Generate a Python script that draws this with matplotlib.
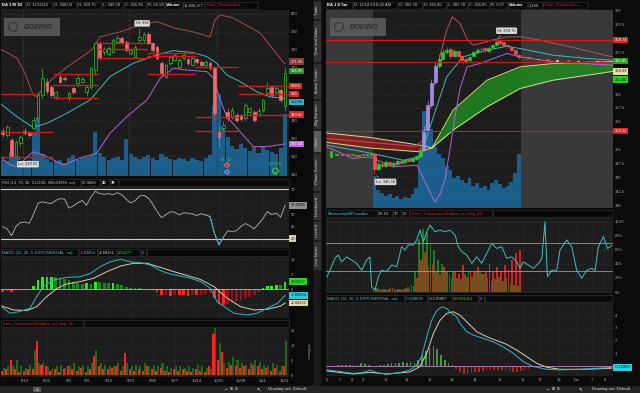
import numpy as np
import matplotlib
matplotlib.use('Agg')
import matplotlib.pyplot as plt
from matplotlib.patches import Rectangle, Circle
import matplotlib.transforms as mtransforms

plt.rcParams['font.family'] = ['Liberation Sans', 'DejaVu Sans']

W, H = 640, 393
BG = '#0b0b0b'
PANE = '#1d1d1d'
TXT = '#a8a8a8'
GRID = '#3e3e3e'
VOLC = '#1c5f8a'

#%% left chart: BA 3 M 1D
d_labels = ['8/19', '8/26', '9/3', '9/9', '9/16', '9/23', '9/30', '10/7', '10/14', '10/21', '10/28', '11/4', '11/11']
d_lab_idx = [5, 10, 15, 19, 24, 29, 34, 39, 44, 49, 54, 59, 64]

d_open = [334.0, 332.0, 329.2, 320.5, 327.3, 334.5, 333.4, 335.8, 341.4, 354.5,
          362.0, 359.0, 353.6, 364.5, 364.0, 353.6, 358.2, 361.0, 362.0, 356.4,
          359.2, 368.5, 383.5, 378.5, 377.5, 378.8, 384.5, 386.3, 384.5, 378.0,
          376.0, 385.5, 385.4, 389.0, 383.5, 381.6, 372.3, 364.8, 372.3, 374.2,
          370.4, 375.0, 374.5, 371.3, 374.5, 373.2, 371.3, 372.7, 369.5, 334.0,
          335.8, 345.1, 342.3, 343.3, 343.0, 341.4, 345.1, 345.1, 343.3, 346.1,
          355.4, 359.2, 356.4, 357.3, 348.04]
d_high = [336.0, 337.6, 330.5, 329.0, 332.0, 336.0, 334.5, 342.0, 356.0, 369.0,
          364.0, 360.0, 357.0, 366.0, 365.0, 356.0, 359.0, 366.0, 364.5, 360.0,
          370.0, 384.5, 385.0, 381.5, 382.0, 386.5, 388.0, 387.5, 385.5, 381.0,
          382.5, 391.0, 390.0, 390.0, 384.5, 382.5, 373.5, 372.0, 377.0, 378.0,
          375.0, 378.5, 375.5, 376.0, 375.5, 374.0, 374.0, 373.5, 370.0, 337.0,
          340.0, 347.0, 348.0, 344.5, 344.0, 350.0, 348.0, 346.0, 347.0, 352.5,
          362.0, 360.0, 359.5, 358.5, 369.75]
d_low = [331.0, 331.0, 319.8, 319.55, 326.0, 332.0, 331.0, 335.0, 340.0, 353.0,
         355.0, 353.0, 352.0, 361.0, 362.5, 351.0, 355.0, 359.0, 361.0, 354.0,
         358.0, 366.0, 374.0, 377.0, 376.5, 378.0, 383.5, 382.5, 378.5, 377.0,
         375.0, 384.5, 384.5, 382.5, 378.5, 374.0, 365.0, 364.0, 371.5, 373.5,
         369.5, 374.0, 371.5, 370.5, 372.0, 370.5, 370.0, 368.5, 340.0, 325.5,
         334.0, 340.0, 341.0, 339.5, 340.0, 340.5, 344.0, 339.5, 342.5, 345.0,
         354.5, 353.5, 355.5, 350.5, 345.58]
d_close = [332.5, 336.5, 320.5, 328.3, 331.0, 333.4, 332.0, 340.4, 354.5, 364.0,
           357.0, 354.5, 356.4, 362.0, 363.3, 355.4, 356.4, 364.0, 363.5, 359.2,
           369.5, 383.5, 375.1, 380.2, 380.7, 385.4, 386.3, 383.5, 379.8, 379.8,
           381.6, 387.0, 389.0, 383.5, 379.8, 375.1, 366.7, 371.3, 376.0, 377.0,
           374.2, 377.0, 372.5, 375.1, 373.2, 371.3, 373.2, 369.5, 344.2, 331.1,
           337.6, 341.4, 346.1, 340.4, 341.0, 348.9, 347.0, 340.4, 345.7, 351.7,
           358.2, 354.5, 358.2, 351.7, 366.96]
d_vol = [3.0, 2.8, 4.5, 3.5, 2.8, 2.5, 3.0, 8.0, 11.0, 4.0,
         3.2, 2.6, 2.8, 3.0, 2.4, 3.4, 3.8, 2.9, 3.3, 3.6,
         3.8, 8.1, 4.2, 3.5, 3.0, 3.3, 3.6, 3.0, 6.8, 4.0,
         3.5, 3.1, 3.6, 3.9, 3.3, 3.0, 4.1, 3.6, 3.2, 2.9,
         3.4, 3.1, 2.8, 3.3, 3.0, 2.7, 3.4, 3.8, 13.0, 15.2,
         9.0, 7.2, 5.5, 5.0, 6.0, 5.2, 4.6, 5.3, 4.2, 5.5,
         4.8, 4.4, 4.0, 5.2, 11.49]

# bollinger style bands (read as sparse points)
up_idx = [-0.6, 3.2, 5, 6.9, 7.8, 9.6, 14.6, 20.2, 22, 26.6, 31.1, 34.9, 39, 43.2, 47, 48.1, 49.3, 52.2, 58.3, 64]
up_val = [380.3, 375.3, 366.9, 354.5, 353.4, 360.1, 370.2, 379.8, 387.1, 389.9, 393.8, 395.7, 392.0, 389.9, 387.1, 396.6, 399.4, 397.8, 389.3, 371.9]
mid_idx = [-0.6, 3.2, 6.9, 10, 14.5, 19.8, 24.3, 29.6, 34.9, 38.7, 43.2, 46.3, 48.5, 50.8, 53.8, 57.6, 60.6, 64]
mid_val = [349.8, 342.3, 336.3, 338.6, 344.2, 351.7, 364.8, 372.3, 377.0, 379.4, 378.3, 376.0, 372.3, 365.7, 362.0, 356.3, 353.5, 352.56]
low_idx = [-0.6, 1.7, 3.2, 6.9, 9.2, 13.7, 18.3, 21.3, 24.3, 28.1, 32.7, 35.7, 38.7, 41.7, 46.3, 47.8, 49.3, 50.8, 53.8, 56.8, 59.9, 64]
low_val = [319.8, 315.2, 314.2, 322.6, 320.8, 315.2, 319.8, 321.7, 333.0, 342.3, 351.7, 363.9, 369.5, 368.5, 367.6, 363.9, 351.7, 342.3, 333.9, 325.5, 325.5, 327.04]

# drawn support / resistance segments
lvl_price = [354.9, 333.9, 319.8, 366.3, 360.1, 352.6, 383.9, 380.1, 375.1, 377.9, 376.4, 366.3, 370.4, 342.0, 334.5, 359.5, 355.0, 343.42]
lvl_from = [-0.6, -0.6, -0.6, 11.4, 11.4, 11.4, 21.6, 21.6, 21.6, 32.7, 32.7, 32.7, 43.6, 43.6, 43.6, 53.4, 53.4, 53.4]
lvl_to = [7.8, 11.4, 11.4, 21.6, 21.6, 21.6, 32.7, 32.7, 32.7, 44.1, 44.1, 43.6, 53.4, 53.4, 53.4, 64.9, 64.9, 64.9]
expiry_idx = [4.6, 28.6, 48.5]

rsi = [39.7, 38, 32.5, 40, 43, 43.5, 42.5, 50, 58.7, 60,
       59, 58.5, 61, 62.5, 62, 54.8, 56.5, 59, 61, 57.2,
       64, 68.5, 66.5, 66, 66.5, 65.6, 67.3, 65.6, 62, 59,
       60.8, 64.5, 65.2, 63, 58, 52, 47, 49.5, 51.8, 51.5,
       49.3, 51, 50.7, 50, 48.8, 50.3, 49.2, 48, 34.5, 25,
       31, 36.5, 35.8, 36.5, 40, 42.3, 40.5, 38, 42, 46.5,
       52, 49.5, 50.8, 47.5, 57.08]

macd_idx = [-0.2, 1.7, 3.9, 6.2, 7.7, 9.2, 11.5, 14.5, 17.6, 19.9, 22.1, 24.4, 26.7, 28.9, 31.2,
            33.5, 35.8, 38.0, 40.3, 42.6, 44.8, 47.1, 48.6, 50.2, 52.4, 55.5, 57.7, 60.0, 62.3, 64.0]
macd_val = [-6, -8, -7.4, -6.3, -2.4, 0.9, 3.1, 4.0, 4.2, 5.3, 7.6, 9.2, 10.0, 9.2, 8.9,
            8.1, 6.2, 5.1, 4.4, 3.7, 2.6, 0.3, -4.1, -5.8, -8.0, -8.6, -8.0, -6.3, -4.7, -2.03]
sig_idx = [-0.2, 2.4, 5.5, 7.7, 10, 12.3, 14.5, 17.6, 20.6, 23.6, 26.7, 29.7, 32.7, 35.8, 38.8,
           41.8, 44.8, 47.9, 50.9, 53.9, 57, 60, 63.0, 64]
sig_val = [-5.6, -6.9, -7.1, -5.8, -2.4, 0.3, 1.8, 2.6, 3.7, 5.9, 7.8, 8.7, 8.7, 7.3, 5.9,
           4.6, 3.3, 0.9, -3.0, -5.8, -6.9, -6.7, -5.6, -4.58]
macd_hist = [-0.8, -0.5, -1.0, -0.6, -0.4, -0.3, -0.1, 1.0, 3.0, 4.0,
             4.2, 4.2, 4.0, 3.7, 3.6, 3.0, 2.5, 2.0, 1.8, 2.0,
             1.8, 2.6, 2.3, 2.2, 2.0, 2.0, 1.7, 1.5, 0.9, 0.5,
             0.4, 0.3, 0.2, 0.1, -0.3, -1.0, -2.0, -1.8, -2.2, -2.0,
             -2.0, -2.0, -2.1, -2.0, -2.0, -1.8, -1.5, -1.2, -3.0, -5.0,
             -5.2, -4.8, -4.4, -4.0, -3.5, -3.0, -2.5, -1.8, -0.9, 0.3,
             1.0, 1.2, 1.6, 1.5, 2.55]

tt_red = [1.5, 2, 5, 2, 1, 1.5, 2, 2, 11.5, 3.5, 3, 1.5, 2, 1, 2, 3, 2, 1.5, 2.5, 1,
          2, 6.5, 3, 2, 2, 2.5, 3, 1.5, 7.5, 2, 1.5, 2, 1.5, 3, 2, 1.5, 2.5, 1.5, 1, 2,
          1.5, 2, 1.5, 1, 2, 1.5, 1, 3, 13.9, 5, 8, 2.5, 3.5, 3, 2.5, 3, 2, 3.5, 3, 2,
          2.5, 1.5, 2.5, 1.5, 3]
tt_green = [2.5, 3, 3, 5, 3, 2.5, 3.5, 8.5, 4, 4, 3, 2, 3, 3.5, 2.5, 3, 4, 3, 3.5, 3,
            4, 8.5, 4, 3.5, 3, 3, 4, 3, 4, 3, 3.5, 3, 4, 3, 3.5, 3, 4, 3, 2.5, 3,
            3, 2.5, 3, 2.5, 3.5, 3, 2.5, 2, 15.8, 11, 4, 4.5, 6, 5, 4, 3.5, 4, 5, 4.5, 3.5,
            3, 4, 3.5, 3, 11.5]

#%% right chart: BA 1 D 5m
r_tick_pos = [0, 7, 13, 19, 31, 42, 54, 66, 78, 91, 103, 112, 122, 131, 139.5, 146]
r_tick_lab = ['5', '7', '8', '9', '10', '11', '12', '13', '14', '15', '16', '17', '18', 'Tue', '7', '8']
r_levels = [369.74, 365.85, 353.32]

pre_t = [2, 5, 8, 11, 13, 15, 17, 19, 21, 23]
pre_open = [348.6, 349.0, 349.2, 349.3, 349.0, 349.1, 348.9, 349.2, 349.0, 349.1]
pre_close = [349.8, 349.2, 349.0, 349.1, 349.3, 348.9, 349.1, 349.0, 349.2, 349.3]

sess_t = np.arange(25, 102, 2)
s_open = [349.2, 346.6, 347.4, 347.1, 347.7, 347.2, 347.5, 347.9, 347.7, 348.3,
          348.0, 348.4, 348.9, 350.1, 353.6, 358.1, 362.1, 365.1, 366.4, 367.6,
          368.1, 366.9, 367.7, 366.8, 366.3, 366.1, 366.8, 367.5, 368.1, 368.3,
          367.8, 368.4, 368.9, 369.5, 369.3, 368.9, 368.5, 367.9, 367.1]
s_high = [349.5, 347.9, 347.8, 348.1, 347.9, 347.9, 348.2, 348.1, 348.4, 348.5,
          348.7, 349.0, 350.4, 354.2, 358.8, 362.8, 365.8, 367.2, 368.1, 368.5,
          368.3, 368.1, 367.9, 367.0, 366.6, 366.9, 367.8, 368.3, 368.5, 368.5,
          368.6, 369.1, 369.75, 369.7, 369.4, 369.0, 368.6, 368.0, 367.3]
s_low = [345.56, 346.3, 346.8, 346.9, 347.0, 347.0, 347.3, 347.4, 347.5, 347.8,
         347.8, 348.2, 348.7, 349.8, 353.2, 357.6, 361.8, 364.7, 366.1, 367.3,
         366.5, 366.7, 366.6, 366.0, 365.8, 365.9, 366.6, 367.3, 367.9, 367.6,
         367.6, 368.2, 368.7, 368.9, 368.6, 368.3, 367.7, 366.9, 366.3]
s_close = [346.5, 347.5, 347.0, 347.8, 347.3, 347.6, 347.9, 347.6, 348.2, 348.0,
           348.5, 348.8, 350.0, 353.5, 358.0, 362.0, 365.0, 366.3, 367.5, 368.0,
           366.8, 367.8, 366.9, 366.2, 366.0, 366.7, 367.6, 368.0, 368.2, 367.9,
           368.3, 368.8, 369.4, 369.2, 368.9, 368.6, 368.0, 367.2, 366.6]
s_vol = [32, 18, 15, 12, 14, 10, 12, 9, 11, 10, 14, 20, 55, 98, 95, 80, 62, 55, 50, 42,
         38, 30, 32, 28, 25, 30, 22, 25, 20, 22, 18, 25, 28, 24, 20, 22, 26, 35, 55]

post_t = [106, 111, 116, 121, 127, 132, 137, 142, 146, 149]
post_open = [366.6, 366.3, 366.3, 366.0, 366.1, 365.8, 365.9, 365.8, 365.85, 365.78]
post_close = [366.5, 366.4, 366.2, 366.1, 366.0, 365.9, 365.8, 365.9, 365.8, 365.85]

rb_up_t = [0, 7, 23, 46, 50, 54, 58, 63, 66, 70, 74, 77, 87, 95, 102, 112, 128, 150]
rb_up_v = [352.0, 351.8, 351.3, 350.6, 351.5, 357.0, 364.9, 371.5, 373.9, 372.7, 369.7, 368.8, 369.7, 370.3, 370.3, 369.7, 368.5, 366.7]
rb_mid_t = [0, 22.6, 40, 49, 56, 63, 71.6, 84, 94.7, 101.6, 119, 137, 150.5]
rb_mid_v = [350.8, 349.4, 348.1, 348.7, 355.9, 363.1, 366.7, 367.9, 368.6, 368.2, 367.0, 366.4, 366.1]
rb_low_t = [0, 13.7, 22.6, 34.7, 47.4, 50.5, 54.2, 56.8, 59.5, 62.1, 64.7, 67.4, 70, 73.7, 80.5, 87.4, 94.7, 101.6, 119, 150.5]
rb_low_v = [350.5, 348.4, 348.7, 346.9, 347.2, 345.0, 342.3, 340.6, 342.0, 344.6, 350.0, 356.0, 361.0, 364.9, 365.5, 366.4, 367.3, 366.7, 365.8, 365.2]

cloud_t = [0, 22.6, 49, 55.3, 66.3, 84.2, 101.6, 119, 137, 150.5]
cloud_fast = [351.3, 350.3, 349.6, 350.3, 357.1, 362.5, 364.9, 365.5, 365.7, 365.85]
cloud_slow = [353.0, 352.2, 350.8, 350.3, 353.5, 357.7, 361.0, 362.5, 363.4, 364.09]

mfi_t = [0, 1.6, 4.2, 5.9, 7.7, 10.4, 13, 15.6, 18.3, 20.9, 22.6, 23.5, 25.3, 27, 28.8, 31.4, 34.1,
         36.7, 39.3, 41.1, 42.8, 45.4, 47.2, 48.9, 50.7, 52.5, 54.2, 56.8, 59.5, 62.1, 64.7, 67.4,
         69.1, 70.9, 73.5, 76.2, 78.8, 81.4, 84.1, 86.7, 89.3, 92, 94.6, 97.2, 99.8, 101.6, 103.3,
         106, 108.6, 111.3, 113.1, 114.7, 116, 118.3, 120.9, 122.6, 126.2, 128.8, 131.4, 134.1,
         136.7, 139.3, 141.1, 142.8, 145.5, 147.6, 149.9]
mfi_v = [21.8, 31, 48, 52.6, 43, 50, 45.5, 40.8, 31, 45.5, 50, 7.5, 2.8, 21.8, 31, 29, 38.4,
         36, 64.5, 59.7, 66.9, 66.9, 74, 88, 71.5, 85.8, 95.3, 85.8, 88, 85.8, 88, 81,
         64.5, 57.3, 52.6, 40.8, 50, 40.8, 55, 69.3, 62, 64.5, 48, 50, 43, 33.7, 43,
         38.4, 33.7, 40.8, 48, 100, 21.8, 31, 31, 59.7, 74, 64.5, 31, 19.5,
         31, 33.7, 31, 64.5, 78.7, 62, 66.23]
mfi_red = [6, 4, 5, 3, 6, 4, 5, 3, 6, 5, 8, 20, 45, 57, 35, 40, 30, 25, 35, 28,
           20, 30, 25, 38, 22, 30, 28, 35, 25, 30, 40, 28, 35, 30, 38, 32, 45, 55, 60]
mfi_green = [4, 6, 3, 5, 4, 6, 3, 5, 4, 7, 10, 30, 75, 90, 85, 70, 60, 45, 40, 30,
             25, 28, 20, 18, 25, 30, 22, 28, 30, 25, 20, 15, 18, 22, 15, 20, 12, 10, 8]

rm_t = [0, 6.8, 13.7, 18.9, 22.6, 26.2, 31.4, 38.4, 43.7, 47.2, 49.8, 52.5, 55.1, 57.7, 60.4, 63,
        65.6, 68.3, 70, 73.5, 77, 82.3, 87.5, 92.8, 98, 103.3, 108.6, 115.6, 122.6, 133.2, 142, 149.8]
rm_v = [-0.31, -0.44, -0.58, -0.52, -0.31, -0.52, -0.65, -0.52, -0.31, 0.08, 0.73, 2.3, 3.6, 4.35, 4.66, 4.53,
        4.14, 3.87, 3.35, 2.7, 2.43, 2.17, 1.9, 1.5, 1.0, 0.34, -0.05, -0.26, -0.31, -0.26, -0.18, -0.119]
rs_t = [0, 13.8, 22.6, 31.4, 43.7, 48.9, 52.5, 56, 59.5, 63, 66.5, 70, 73.5, 78.8, 84.1, 89.3,
        94.6, 99.8, 105.1, 110.4, 115.6, 122.6, 136.7, 149.8]
rs_v = [-0.39, -0.63, -0.5, -0.63, -0.47, -0.05, 1.0, 2.56, 3.6, 4.14, 4.27, 4.0, 3.48, 2.7, 2.3, 2.0,
        1.7, 1.25, 0.73, 0.21, -0.1, -0.26, -0.26, -0.177]
rh_t = np.arange(0, 111, 2)
rh_v = [0.02, 0.03, 0.02, 0.05, 0.08, 0.1, 0.08, 0.05, 0.1, 0.2, 0.15,
        0.1, -0.05, -0.05, 0.05, 0.1, 0.15, 0.2, 0.2, 0.25, 0.3, 0.25, 0.35,
        0.2, 0.5, 0.9, 1.2, 1.45, 1.6, 1.3, 0.9, 0.5, 0.25,
        0.05, -0.2, -0.45, -0.6, -0.65, -0.55, -0.5, -0.45, -0.4, -0.35, -0.35, -0.3,
        -0.35, -0.3, -0.35, -0.4, -0.45, -0.5, -0.4, -0.3, -0.2, -0.1, -0.03]

#%% figure
fig = plt.figure(figsize=(W / 100, H / 100), dpi=100, facecolor=BG)


def px_axes(x0, y0, x1, y1, fc=PANE):
    ax = fig.add_axes([x0 / W, 1 - y1 / H, (x1 - x0) / W, (y1 - y0) / H])
    ax.set_facecolor(fc)
    for s in ax.spines.values():
        s.set_visible(False)
    ax.yaxis.tick_right()
    ax.tick_params(length=0, labelsize=3, colors=TXT, pad=1.5, labelbottom=False)
    return ax


def twin(axv):
    ax = axv.twinx()
    for s in ax.spines.values():
        s.set_visible(False)
    ax.tick_params(length=0, labelsize=3, colors=TXT, pad=1.5, labelbottom=False)
    axv.set_yticks([])
    return ax


def yticks(ax, vals, hidden=(), fmt='{:g}'):
    # tick labels that sit under a value box are left blank (as on the platform)
    ax.set_yticks(vals)
    ax.set_yticklabels(['' if v in hidden else fmt.format(v) for v in vals])


def vlabel(ax, y, txt, fc, tc='white'):
    tr = mtransforms.blended_transform_factory(ax.transAxes, ax.transData)
    ax.text(1.006, y, txt, transform=tr, fontsize=3, color=tc, va='center', ha='left',
            bbox=dict(boxstyle='square,pad=0.3', fc=fc, ec='none'), clip_on=False, zorder=10)


def candles(ax, t, o, h, l, c, width, up_c, dn_c, hollow=True):
    t, o, h, l, c = map(np.asarray, (t, o, h, l, c))
    up = c >= o
    ax.vlines(t, l, h, colors=np.where(up, up_c, dn_c), lw=0.5, zorder=3)
    ax.bar(t[up], (c - o)[up], bottom=o[up], width=width, color=PANE if hollow else up_c,
           edgecolor=up_c, lw=0.5, zorder=4)
    ax.bar(t[~up], (o - c)[~up], bottom=c[~up], width=width, color=dn_c, edgecolor=dn_c, lw=0.5, zorder=4)


idx = np.arange(len(d_close))
XL = (-0.4, 64.9)

# left price pane + volume
axv = px_axes(1, 10, 289, 176)
axv.bar(idx, d_vol, width=0.95, color=VOLC, lw=0)
axv.set_xlim(XL)
axv.set_ylim(0, 30.7)
ax = twin(axv)
ax.set_xlim(XL)
ax.set_ylim(309.0, 402.2)
ax.set_xticks(d_lab_idx)
yticks(ax, [310, 320, 330, 340, 350, 360, 370, 380, 390, 400], hidden=(350, 360))
ax.grid(True, color=GRID, lw=0.4, ls=':')
ax.set_axisbelow(True)
for e in expiry_idx:
    ax.axvline(e, color='#7a1c1c', lw=0.6, ls='--', zorder=1)
ax.plot(up_idx, up_val, color='#a84c4c', lw=0.7, zorder=2)
ax.plot(mid_idx, mid_val, color='#3cbcbc', lw=0.7, zorder=2)
ax.plot(low_idx, low_val, color='#b064d6', lw=0.7, zorder=2)
ax.hlines(lvl_price, lvl_from, lvl_to, colors='#d21818', lw=1.0, zorder=5)
candles(ax, idx, d_open, d_high, d_low, d_close, 0.62, '#2fc42f', '#f26a6a')
ax.annotate('Hi: 391', xy=(31, 391), xytext=(31.6, 394.7), fontsize=3, color='#222', ha='center', va='center',
            bbox=dict(boxstyle='round,pad=0.3', fc='#d8d8d8', ec='none'),
            arrowprops=dict(arrowstyle='-', color='#d8d8d8', lw=0.4), zorder=8)
ax.annotate('Lo: 319.55', xy=(3, 319.55), xytext=(5.7, 315.6), fontsize=3, color='#222', ha='center', va='center',
            bbox=dict(boxstyle='round,pad=0.3', fc='#d8d8d8', ec='none'),
            arrowprops=dict(arrowstyle='-', color='#d8d8d8', lw=0.4), zorder=8)
for txt, y, fc, tc in [('371.89', 373.2, '#8c3b3b', '#f2d0d0'), ('366.96', 367.9, '#2c8f2c', 'white'),
                       ('358.5', 359.5, '#d12a2a', 'white'), ('355', 355.0, '#d12a2a', 'white'),
                       ('352.56', 350.6, '#2bb8c6', '#102020'), ('343.42', 343.42, '#d12a2a', 'white'),
                       ('327.04', 327.04, '#c366e3', 'white')]:
    vlabel(ax, y, txt, fc, tc)

# RSI pane
axr = px_axes(1, 187, 289, 248)
axr.set_xlim(XL)
axr.set_ylim(22.5, 71.9)
axr.set_xticks(d_lab_idx)
yticks(axr, [30, 40, 50, 60, 70], hidden=(30, 60))
axr.grid(True, color=GRID, lw=0.4, ls=':')
axr.axhline(70, color='#d6cfae', lw=0.8)
axr.axhline(30, color='#d6cfae', lw=0.8)
axr.plot(idx, rsi, color='#b4b4b4', lw=0.6)
axr.plot(idx[46:51], rsi[46:51], color='#2fb8c8', lw=0.7)
vlabel(axr, 57.08, '57.0828', '#8e8e8e', '#111111')
vlabel(axr, 30, '30', '#d6cfae', '#222222')

# MACD pane (left)
axm = px_axes(1, 257, 289, 318)
axm.set_xlim(XL)
axm.set_ylim(-9.6, 10.8)
axm.set_xticks(d_lab_idx)
yticks(axm, [-5, 0, 5, 10], hidden=(-5,))
axm.grid(True, color=GRID, lw=0.4, ls=':')
hist = np.asarray(macd_hist)
prev = np.concatenate([[hist[0]], hist[:-1]])
hcol = np.where(hist >= 0, np.where(hist >= prev, '#2aea2a', '#178a17'),
                np.where(hist <= prev, '#ff2222', '#8a1818'))
axm.bar(idx, hist, width=0.62, color=hcol, lw=0)
axm.axhline(0, color='#cfcfcf', lw=0.5)
axm.plot(sig_idx, sig_val, color='#d8ceb0', lw=0.7)
axm.plot(macd_idx, macd_val, color='#33b5c5', lw=0.7)
vlabel(axm, 2.55, '2.55277', '#28d428', '#102010')
vlabel(axm, -2.03, '-2.02854', '#2fc8d8', '#102020')
vlabel(axm, -4.58, '-4.58151', '#e2d8a8', '#222222')

# TransparentTraders pane
axt = px_axes(1, 328, 289, 377)
axt.set_xlim(XL)
axt.set_ylim(-0.57, 15.9)
yticks(axt, [0, 5, 10, 15])
axt.bar(idx + 0.22, tt_green, width=0.46, color='#1c6a1c', lw=0)
axt.bar(idx - 0.22, tt_red, width=0.46, color='#ff2020', lw=0)
axt.set_xticks(d_lab_idx)
axt.set_xticklabels(d_labels)
axt.tick_params(labelbottom=True, pad=1.5)
axt.grid(True, color=GRID, lw=0.4, ls=':')
axt.set_axisbelow(True)

# right price pane + volume
RXL = (-0.5, 150.5)
rvv = px_axes(326, 10, 613, 208)
rvv.axvspan(RXL[0], 24, color='#393939', lw=0)
rvv.axvspan(102, RXL[1], color='#393939', lw=0)
rvv.bar(sess_t, s_vol, width=2.05, color=VOLC, lw=0)
rvv.set_xlim(RXL)
rvv.set_ylim(0, 200)
rp = twin(rvv)
rp.set_xlim(RXL)
rp.set_ylim(339.5, 375.13)
rp.set_xticks(r_tick_pos)
yticks(rp, list(np.arange(340, 375.1, 2.5)), hidden=(352.5, 362.5, 365.0, 370.0))
rp.grid(True, color=GRID, lw=0.4, ls=':')
rp.set_axisbelow(True)
cf = np.asarray(cloud_fast)
cs = np.asarray(cloud_slow)
rp.fill_between(cloud_t, cf, cs, where=cf >= cs, interpolate=True, color='#1f8a1f', alpha=0.85, lw=0, zorder=1)
rp.fill_between(cloud_t, cf, cs, where=cf < cs, interpolate=True, color='#8e1d1d', alpha=0.85, lw=0, zorder=1)
rp.plot(cloud_t, cloud_slow, color='#e2d6a2', lw=0.7, zorder=2)
rp.plot(cloud_t, cloud_fast, color='#cfe27a', lw=0.7, zorder=2)
for lv in r_levels:
    rp.axhline(lv, color='#cf1a1a', lw=0.8, zorder=5)
rp.plot(rb_up_t, rb_up_v, color='#b05656', lw=0.7, zorder=2)
rp.plot(rb_mid_t, rb_mid_v, color='#3cbcbc', lw=0.7, zorder=2)
rp.plot(rb_low_t, rb_low_v, color='#b064d6', lw=0.7, zorder=2)
candles(rp, pre_t, pre_open, np.maximum(pre_open, pre_close), np.minimum(pre_open, pre_close), pre_close,
        1.2, '#2fc42f', '#e85050', hollow=False)
so, sc = np.asarray(s_open), np.asarray(s_close)
rise = (sc - so) > 1.5
candles(rp, sess_t[~rise], so[~rise], np.asarray(s_high)[~rise], np.asarray(s_low)[~rise], sc[~rise],
        1.5, '#2fc42f', '#e85050', hollow=False)
candles(rp, sess_t[rise], so[rise], np.asarray(s_high)[rise], np.asarray(s_low)[rise], sc[rise],
        1.5, '#9c90e2', '#9c90e2', hollow=False)
candles(rp, post_t, post_open, np.maximum(post_open, post_close), np.minimum(post_open, post_close), post_close,
        1.2, '#d8d8d8', '#e85050', hollow=False)
rp.annotate('Hi: 369.75', xy=(89, 369.75), xytext=(94.5, 371.4), fontsize=3, color='#222', ha='center', va='center',
            bbox=dict(boxstyle='round,pad=0.3', fc='#d8d8d8', ec='none'),
            arrowprops=dict(arrowstyle='-', color='#d8d8d8', lw=0.4), zorder=8)
rp.annotate('Lo: 345.56', xy=(25, 345.56), xytext=(30.8, 344.2), fontsize=3, color='#222', ha='center', va='center',
            bbox=dict(boxstyle='round,pad=0.3', fc='#d8d8d8', ec='none'),
            arrowprops=dict(arrowstyle='-', color='#d8d8d8', lw=0.4), zorder=8)
for txt, y, fc, tc in [('369.74', 369.74, '#d12a2a', 'white'), ('365.85', 365.95, '#25a025', 'white'),
                       ('364.09', 364.09, '#e8dca4', '#222222'), ('362.60', 362.6, '#22d022', '#102010'),
                       ('353.32', 353.32, '#d12a2a', 'white')]:
    vlabel(rp, y, txt, fc, tc)

# Mentorship MFI pane
rmf = px_axes(326, 218, 613, 293)
rmf.set_xlim(RXL)
rmf.set_ylim(-1.4, 105.3)
rmf.set_xticks(r_tick_pos)
yticks(rmf, [0, 20, 40, 60, 80, 100], fmt='{:g}%')
rmf.grid(True, color=GRID, lw=0.4, ls=':')
rmf.set_axisbelow(True)
rmf.bar(sess_t - 0.5, mfi_green, width=0.9, color='#1f7a1f', lw=0)
rmf.bar(sess_t + 0.5, mfi_red, width=0.9, color='#d42020', lw=0)
rmf.axhline(70, color='#9a9a9a', lw=0.6)
rmf.axhline(30, color='#9a9a9a', lw=0.6)
rmf.plot(mfi_t, mfi_v, color='#3cc0c0', lw=0.7)

# MACD pane (right)
rmc = px_axes(326, 303, 613, 376)
rmc.set_xlim(RXL)
rmc.set_ylim(-0.79, 4.96)
yticks(rmc, [0, 1, 2, 3, 4], hidden=(0,))
rmc.grid(True, color=GRID, lw=0.4, ls=':')
rmc.set_axisbelow(True)
rhv = np.asarray(rh_v)
rmc.bar(rh_t, rhv, width=0.9, color=np.where(rhv >= 0, '#3c9c3c', '#b82222'), lw=0)
rmc.axhline(0, color='#c07cc0', lw=0.6)
rmc.plot(rs_t, rs_v, color='#d8ceb0', lw=0.7)
rmc.plot(rm_t, rm_v, color='#33b5c5', lw=0.7)
rmc.set_xticks(r_tick_pos)
rmc.set_xticklabels(r_tick_lab)
rmc.tick_params(labelbottom=True, pad=1.5)
vlabel(rmc, -0.119, '-0.11883', '#2fd0e0', '#102020')

#%% chrome (headers, tabs, status bar) in pixel coordinates
ov = fig.add_axes([0, 0, 1, 1], zorder=20)
ov.set_xlim(0, W)
ov.set_ylim(H, 0)
ov.axis('off')


def hbox(x0, x1, y0, y1, txt='', col='#c8c8c8', bold=False, fc='#0a0a0a'):
    ov.add_patch(Rectangle((x0, y0), x1 - x0, y1 - y0, fc=fc, ec='#3a3a3a', lw=0.4))
    if txt:
        ov.text(x0 + 1.2, (y0 + y1) / 2 + 0.2, txt, color=col, fontsize=3, va='center', ha='left',
                fontweight='bold' if bold else 'normal')


RED_T = '#e02020'
left_hdr = [('BA 3 M 1D', 1, 25, '#ffffff', True), ('D: 11/11/19', 26, 52, '#c8c8c8', False),
            ('O: 348.04', 53, 76, '#c8c8c8', False), ('H: 369.75', 77, 101, '#c8c8c8', False),
            ('L: 345.58', 102, 123, '#c8c8c8', False), ('C: 366.96', 124, 146, '#c8c8c8', False),
            ('R: 24.19', 147, 164, '#c8c8c8', False), ('Volume', 165, 182, '#ffffff', True),
            ('11,488,377', 183, 204, '#c8c8c8', False), ('From_Transparent...', 205, 258, RED_T, False)]
for t, x0, x1, c, b in left_hdr:
    hbox(x0, x1, 1.5, 8.5, t, c, b)
right_hdr = [('BA 1 D 5m', 326, 352, '#ffffff', True), ('D: 11/12/19 8:25 AM', 353, 397, '#c8c8c8', False),
             ('O: 365.78', 398, 422, '#c8c8c8', False), ('H: 365.85', 423, 446, '#c8c8c8', False),
             ('L: 365.78', 447, 467, '#c8c8c8', False), ('C: 365.85', 468, 489, '#c8c8c8', False),
             ('R: 0.07', 490, 507, '#c8c8c8', False), ('Volume', 508, 527, '#ffffff', True),
             ('1,100', 528, 542, '#c8c8c8', False), ('From_Transparen...', 543, 588, RED_T, False)]
for t, x0, x1, c, b in right_hdr:
    hbox(x0, x1, 1.5, 8.5, t, c, b)

# study headers
hbox(1, 80, 179, 186, 'RSI (14, 70, 30, CLOSE, WILDERS, no)')
hbox(81, 100, 179, 186, '57.0828')
hbox(101, 109, 179, 186, '30', '#ffffff', True)
hbox(110, 118, 179, 186, '70', '#ffffff', True)
hbox(119, 289, 179, 186)
hbox(1, 78, 249, 256, 'MACD (12, 26, 9, EXPONENTIAL, no)', '#3cc8d8')
hbox(79, 97, 249, 256, '-2.02854', '#3cc8d8')
hbox(98, 116, 249, 256, '-4.58151', '#e2d8a8')
hbox(117, 140, 249, 256, '2.55277', '#28e028')
hbox(141, 146, 249, 256, '0', '#c070e0')
hbox(147, 289, 249, 256)
hbox(1, 83, 320, 327, 'From_TransparentTraders_on_Sep_25', RED_T)
hbox(84, 289, 320, 327)
hbox(326, 377, 210, 217, 'MentorshipMFIcandles', '#3cc8d8')
hbox(378, 392, 210, 217, '66.23')
hbox(393, 401, 210, 217, '70')
hbox(402, 409, 210, 217, '30')
hbox(410, 492, 210, 217, 'From_TransparentTraders_on_Sep_25', RED_T)
hbox(493, 613, 210, 217)
hbox(326, 404, 295, 302, 'MACD (12, 26, 9, EXPONENTIAL, no)', '#3cc8d8')
hbox(405, 427, 295, 302, '-0.118835', '#3cc8d8')
hbox(428, 452, 295, 302, '-0.176957', '#e2d8a8')
hbox(453, 478, 295, 302, '0.0581314', '#28e028')
hbox(479, 484, 295, 302, '0', '#c070e0')
hbox(485, 613, 295, 302)

# logos
for x0 in (4, 330):
    ov.add_patch(Rectangle((x0, 18), 56, 18, fc='#5e5e5e', ec='none', alpha=0.85))
    ov.add_patch(Circle((x0 + 9, 27), 4.5, fc='none', ec='#2c2c2c', lw=0.6))
    ov.text(x0 + 34, 27.3, 'BOEING', color='#2c2c2c', fontsize=5.2, fontweight='bold', style='italic',
            ha='center', va='center')

# corporate event icons
ov.add_patch(Circle((227, 165), 2.4, fc='#c84040', ec='#e08080', lw=0.4))
ov.add_patch(Circle((227, 172), 2.4, fc='#3a76c8', ec='#80a8e0', lw=0.4))
ov.add_patch(Circle((275.5, 171), 3.0, fc='#1e9e3e', ec='#40e070', lw=0.5))
ov.text(275.5, 171.2, 'S', color='#0a3a14', fontsize=3.2, fontweight='bold', ha='center', va='center')
ov.text(226, 160, 'DL .43', color='#40d060', fontsize=2.4, ha='center', va='center')
ov.text(275, 164, 'E2 0.99', color='#40d060', fontsize=2.4, ha='center', va='center')

# side tabs
ov.add_patch(Rectangle((312.5, 0), 8.5, 393, fc='#1a1a1a', ec='none'))
tabs = [('Trade', 0, 19), ('Time and Sales', 19, 62), ('Active Trader', 62, 99), ('Big Buttons', 99, 129),
        ('Chart', 129, 152), ('Phase Scores', 152, 191), ('Dashboard', 191, 220), ('Level II', 220, 240),
        ('Live News', 240, 270)]
for name, y0, y1 in tabs:
    ov.add_patch(Rectangle((313, y0 + 0.5), 7.5, y1 - y0 - 1, fc='#5c5c5c' if name == 'Chart' else '#333333',
                           ec='#141414', lw=0.4))
    ov.text(316.8, (y0 + y1) / 2, name, rotation=90, color='#d4d4d4', fontsize=3, ha='center', va='center')
ov.text(307.5, 352, '<millions>', rotation=270, color=TXT, fontsize=2.8, ha='center', va='center')

# status bar
ov.add_patch(Rectangle((0, 385.5), W, 7.5, fc='#242424', ec='none'))
ov.add_patch(Rectangle((33, 386.5), 8, 5.5, fc='#5a5a5a', ec='none'))
ov.text(37, 389.3, '≡', color='#e0e0e0', fontsize=3.2, ha='center', va='center')
for xi, xd in ((224, 268), (546, 592)):
    ov.text(xi, 389.3, '↔ ⊕ ⊙', color='#d8d8d8', fontsize=3.2, ha='left', va='center')
    ov.text(xi + 34, 389.3, '↖', color='#ffffff', fontsize=3.6, ha='center', va='center')
    ov.text(xd, 389.3, 'Drawing set: Default', color='#e4e4e4', fontsize=3.1, ha='left', va='center')

fig.savefig('out.png', dpi=100, facecolor=BG)
